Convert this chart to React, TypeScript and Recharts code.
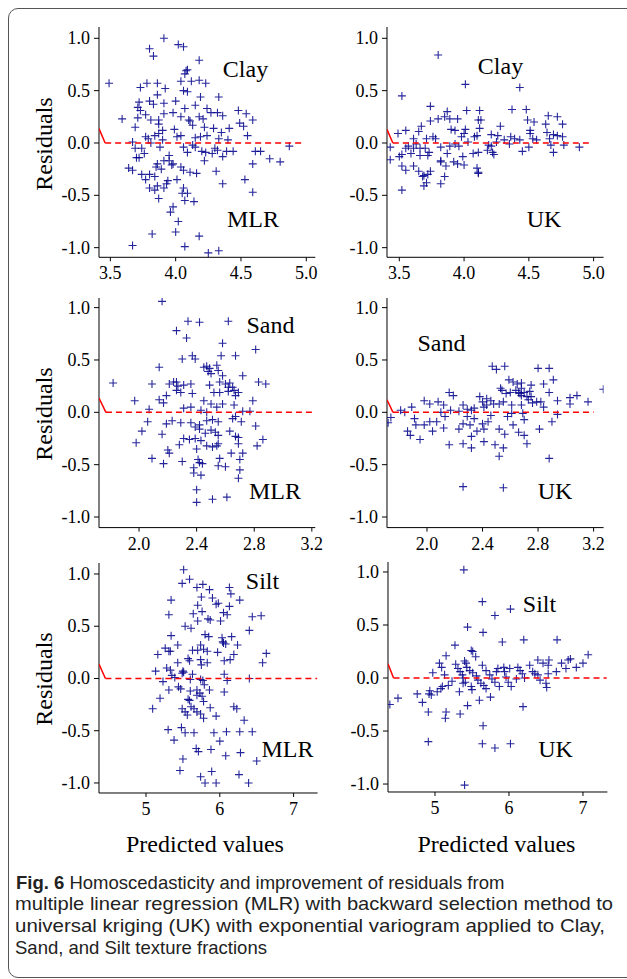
import { ScatterChart, Scatter, XAxis, YAxis } from 'recharts';

const SERIF = '"Liberation Serif", "Times New Roman", serif';
const SANS = '"Liberation Sans", Arial, sans-serif';
const PT = '#00008b';
const RED = '#ff0000';

// residual ticks shared by all panels
const residTicks = [-1, -0.5, 0, 0.5, 1];
const clayTicks = [3.5, 4.0, 4.5, 5.0];
const sandTicks = [2.0, 2.4, 2.8, 3.2];
const siltTicks = [5, 6, 7];

// [predicted, residual]
const clayMlr: [number, number][] = [
  [3.91, 1.0], [3.8, 0.9], [3.83, 0.83], [4.02, 0.94], [4.06, 0.92], [4.18, 0.79], [4.09, 0.7], [4.07, 0.66],
  [4.08, 0.69], [3.49, 0.57], [3.73, 0.53], [3.78, 0.57], [3.86, 0.57], [3.92, 0.52], [4.04, 0.59], [4.12, 0.59],
  [4.18, 0.6], [4.23, 0.57], [4.06, 0.5], [4.09, 0.49], [4.19, 0.44], [4.33, 0.44], [3.72, 0.39], [3.8, 0.4],
  [3.83, 0.37], [3.86, 0.46], [3.91, 0.38], [4.0, 0.4], [4.15, 0.36], [3.71, 0.34], [3.73, 0.31], [3.77, 0.27],
  [3.71, 0.24], [3.59, 0.23], [3.81, 0.22], [3.87, 0.22], [3.91, 0.28], [3.98, 0.29], [4.04, 0.25], [4.07, 0.33],
  [4.1, 0.22], [4.11, 0.21], [4.18, 0.25], [4.21, 0.23], [4.24, 0.33], [4.27, 0.29], [4.32, 0.29], [4.36, 0.26],
  [4.48, 0.31], [4.54, 0.28], [4.59, 0.22], [4.49, 0.19], [4.52, 0.16], [4.55, 0.07], [3.69, 0.15], [3.87, 0.18],
  [3.9, 0.12], [3.99, 0.13], [4.13, 0.17], [4.22, 0.15], [4.29, 0.14], [4.41, 0.14], [4.35, 0.1], [4.24, 0.07],
  [4.15, 0.05], [4.19, 0.06], [4.04, 0.07], [4.01, 0.06], [3.84, 0.07], [3.87, 0.09], [3.77, 0.06], [3.79, 0.04],
  [3.81, 0.0], [3.9, 0.03], [3.67, 0.01], [4.33, 0.04], [4.4, 0.03], [4.87, -0.03], [3.74, -0.05], [3.76, -0.1],
  [3.72, -0.14], [3.7, -0.14], [3.69, -0.05], [3.88, -0.04], [4.06, -0.04], [4.09, -0.09], [4.13, -0.02], [4.15, -0.04],
  [4.2, -0.08], [4.23, -0.09], [4.28, -0.1], [4.3, -0.05], [4.32, -0.07], [4.39, -0.08], [4.44, -0.08], [4.61, -0.08],
  [4.65, -0.08], [4.72, -0.15], [4.8, -0.18], [4.59, -0.2], [4.22, -0.17], [4.36, -0.13], [3.95, -0.12], [3.95, -0.17],
  [3.98, -0.2], [3.91, -0.17], [3.86, -0.2], [3.89, -0.25], [3.85, -0.23], [3.97, -0.21], [4.04, -0.23], [4.06, -0.26],
  [4.11, -0.28], [4.16, -0.29], [4.31, -0.27], [3.64, -0.24], [3.67, -0.26], [3.74, -0.3], [3.8, -0.3], [3.84, -0.32],
  [3.77, -0.35], [4.01, -0.35], [3.94, -0.36], [3.93, -0.39], [4.53, -0.35], [4.36, -0.39], [3.8, -0.43], [3.84, -0.45],
  [3.86, -0.41], [3.91, -0.43], [3.87, -0.53], [4.06, -0.43], [4.05, -0.48], [4.09, -0.48], [4.07, -0.55], [4.14, -0.56],
  [4.59, -0.47], [3.98, -0.61], [3.96, -0.66], [4.02, -0.75], [4.0, -0.85], [3.82, -0.87], [4.18, -0.89], [3.67, -0.98],
  [4.07, -0.99], [4.25, -1.05], [4.33, -1.03],
];

const clayUk: [number, number][] = [
  [3.8, 0.84], [4.01, 0.56], [4.43, 0.53], [3.52, 0.45], [3.74, 0.35], [4.37, 0.32], [4.48, 0.32], [3.87, 0.3],
  [4.02, 0.31], [4.12, 0.31], [3.85, 0.25], [3.8, 0.23], [3.89, 0.23], [3.95, 0.23], [3.74, 0.21], [4.11, 0.22],
  [4.13, 0.22], [4.49, 0.22], [4.54, 0.2], [4.65, 0.26], [4.72, 0.25], [4.76, 0.18], [4.63, 0.18], [3.67, 0.16],
  [3.65, 0.11], [3.55, 0.12], [3.49, 0.09], [3.9, 0.13], [3.93, 0.12], [4.01, 0.13], [4.12, 0.14], [4.28, 0.16],
  [4.26, 0.07], [4.21, 0.08], [4.1, 0.07], [4.08, 0.06], [4.0, 0.09], [3.98, 0.06], [3.76, 0.06], [3.78, 0.04],
  [3.71, 0.04], [3.61, 0.04], [3.63, -0.01], [3.57, -0.03], [3.61, -0.05], [3.66, -0.05], [3.7, -0.05], [3.73, -0.09],
  [3.72, -0.12], [3.66, -0.12], [3.59, -0.1], [3.52, -0.11], [3.5, -0.13], [3.55, -0.05], [3.43, -0.04], [3.43, -0.16],
  [3.52, -0.22], [3.55, -0.26], [3.61, -0.22], [3.65, -0.27], [3.69, -0.31], [3.68, -0.32], [3.74, -0.27], [3.72, -0.3],
  [3.71, -0.38], [3.69, -0.41], [3.52, -0.45], [3.82, -0.39], [3.85, -0.32], [3.82, -0.18], [3.82, -0.17], [3.86, -0.22],
  [3.92, -0.18], [3.95, -0.2], [4.0, -0.21], [3.99, -0.13], [3.87, -0.1], [3.82, -0.04], [3.89, -0.03], [3.93, -0.01],
  [3.96, -0.03], [4.03, 0.01], [4.07, -0.1], [4.11, -0.09], [4.1, -0.24], [4.11, -0.28], [4.11, -0.29], [4.18, -0.07],
  [4.22, -0.09], [4.23, -0.11], [4.19, -0.02], [4.21, -0.03], [4.25, 0.01], [4.31, 0.03], [4.36, 0.06], [4.39, 0.04],
  [4.35, -0.01], [4.43, 0.03], [4.45, -0.08], [4.5, -0.04], [4.51, 0.12], [4.51, 0.09], [4.53, 0.04], [4.56, 0.03],
  [4.64, 0.1], [4.66, 0.04], [4.69, 0.08], [4.72, 0.07], [4.67, -0.02], [4.69, -0.09], [4.76, 0.06], [4.77, -0.02],
  [4.89, -0.04],
];

const sandMlr: [number, number][] = [
  [2.16, 1.06], [2.34, 0.87], [2.42, 0.86], [2.62, 0.87], [2.26, 0.78], [2.33, 0.71], [2.58, 0.66], [2.81, 0.6],
  [2.3, 0.51], [2.37, 0.54], [2.39, 0.51], [2.57, 0.54], [2.67, 0.54], [2.14, 0.43], [2.45, 0.43], [2.47, 0.44],
  [2.49, 0.42], [2.5, 0.37], [2.54, 0.45], [2.55, 0.4], [2.48, 0.39], [2.58, 0.35], [2.72, 0.35], [1.82, 0.28],
  [2.09, 0.27], [2.21, 0.27], [2.26, 0.29], [2.27, 0.25], [2.24, 0.29], [2.31, 0.26], [2.36, 0.27], [2.49, 0.26],
  [2.56, 0.29], [2.6, 0.27], [2.63, 0.28], [2.62, 0.24], [2.65, 0.24], [2.83, 0.29], [2.88, 0.27], [2.26, 0.21],
  [2.29, 0.19], [2.19, 0.16], [2.37, 0.18], [2.52, 0.19], [2.56, 0.19], [2.62, 0.2], [2.66, 0.21], [2.69, 0.19],
  [2.67, 0.16], [2.14, 0.12], [2.17, 0.09], [1.97, 0.11], [2.45, 0.11], [2.5, 0.08], [2.58, 0.08], [2.66, 0.07],
  [2.79, 0.11], [2.36, 0.05], [2.31, 0.04], [2.43, 0.02], [2.47, 0.0], [2.54, 0.05], [2.07, 0.03], [2.72, 0.01],
  [2.77, 0.01], [2.06, -0.09], [2.02, -0.18], [1.98, -0.29], [2.23, -0.08], [2.19, -0.11], [2.29, -0.1], [2.36, -0.1],
  [2.39, -0.14], [2.42, -0.16], [2.42, -0.12], [2.47, -0.08], [2.51, -0.07], [2.55, -0.09], [2.65, -0.06], [2.67, -0.04],
  [2.71, -0.09], [2.81, -0.13], [2.46, -0.2], [2.5, -0.17], [2.53, -0.19], [2.55, -0.22], [2.63, -0.18], [2.67, -0.23],
  [2.69, -0.24], [2.16, -0.21], [2.31, -0.25], [2.35, -0.26], [2.39, -0.25], [2.43, -0.27], [2.47, -0.32], [2.51, -0.33],
  [2.54, -0.32], [2.55, -0.3], [2.28, -0.31], [2.2, -0.36], [2.21, -0.39], [2.4, -0.35], [2.69, -0.3], [2.72, -0.39],
  [2.82, -0.32], [2.86, -0.26], [2.09, -0.44], [2.17, -0.49], [2.3, -0.47], [2.41, -0.45], [2.42, -0.48], [2.44, -0.49],
  [2.38, -0.53], [2.56, -0.44], [2.55, -0.51], [2.6, -0.52], [2.64, -0.39], [2.7, -0.45], [2.7, -0.55], [2.38, -0.58],
  [2.43, -0.6], [2.69, -0.63], [2.4, -0.74], [2.51, -0.83], [2.61, -0.81], [2.4, -0.86],
];

const sandUk: [number, number][] = [
  [2.47, 0.44], [2.5, 0.41], [2.56, 0.44], [2.8, 0.42], [2.88, 0.42], [2.91, 0.31], [2.84, 0.27], [2.88, 0.19],
  [3.27, 0.22], [2.59, 0.31], [2.62, 0.29], [2.65, 0.27], [2.68, 0.28], [2.75, 0.26], [2.53, 0.23], [2.54, 0.21],
  [2.57, 0.18], [2.6, 0.19], [2.64, 0.21], [2.66, 0.19], [2.68, 0.23], [2.67, 0.18], [2.7, 0.19], [2.74, 0.2],
  [2.75, 0.15], [2.72, 0.15], [2.68, 0.16], [2.16, 0.19], [2.19, 0.16], [2.38, 0.15], [2.43, 0.13], [2.46, 0.11],
  [2.4, 0.1], [2.43, 0.07], [2.41, 0.05], [2.48, 0.08], [2.52, 0.08], [2.55, 0.1], [2.61, 0.07], [2.68, 0.07],
  [2.73, 0.12], [2.76, 0.09], [2.79, 0.1], [2.82, 0.1], [2.84, 0.05], [2.94, 0.11], [3.03, 0.14], [3.08, 0.16],
  [3.03, 0.08], [3.16, 0.1], [1.98, 0.11], [1.89, 0.05], [1.81, 0.02], [2.02, 0.08], [2.08, 0.1], [2.12, 0.07],
  [2.17, 0.02], [2.23, 0.01], [2.26, 0.07], [2.29, 0.03], [2.32, 0.02], [2.34, 0.04], [1.74, -0.05], [1.72, -0.1],
  [1.84, 0.0], [1.91, -0.06], [1.92, -0.12], [1.86, -0.18], [1.88, -0.22], [1.95, -0.26], [1.98, -0.12], [2.02, -0.09],
  [2.04, -0.18], [2.07, -0.09], [2.1, 0.0], [2.13, -0.04], [2.12, -0.15], [2.16, -0.31], [2.23, -0.16], [2.26, -0.3],
  [2.26, -0.11], [2.29, -0.04], [2.31, -0.12], [2.32, -0.23], [2.32, -0.34], [2.36, -0.18], [2.34, -0.06], [2.4, -0.11],
  [2.41, -0.16], [2.41, -0.28], [2.44, -0.09], [2.46, -0.03], [2.52, -0.16], [2.49, -0.31], [2.52, -0.42], [2.55, -0.34],
  [2.56, -0.21], [2.58, -0.04], [2.61, -0.01], [2.62, -0.12], [2.66, -0.19], [2.7, -0.22], [2.72, -0.3], [2.7, -0.07],
  [2.69, -0.01], [2.81, -0.16], [2.9, -0.09], [2.94, -0.02], [2.88, -0.44], [2.26, -0.71], [2.55, -0.72],
];

const siltMlr: [number, number][] = [
  [5.51, 1.04], [5.49, 0.91], [5.59, 0.95], [5.69, 0.87], [5.77, 0.9], [5.86, 0.85], [6.13, 0.87], [6.15, 0.81],
  [6.27, 0.75], [5.75, 0.78], [5.9, 0.77], [5.98, 0.72], [5.95, 0.71], [5.7, 0.7], [5.34, 0.75], [6.13, 0.69],
  [5.76, 0.64], [5.64, 0.62], [6.05, 0.63], [6.1, 0.61], [6.44, 0.59], [6.56, 0.6], [5.31, 0.61], [5.84, 0.57],
  [5.87, 0.56], [5.7, 0.55], [6.01, 0.55], [5.53, 0.5], [5.61, 0.48], [6.4, 0.46], [5.8, 0.42], [5.85, 0.4],
  [5.34, 0.41], [6.03, 0.39], [6.16, 0.4], [6.04, 0.35], [6.05, 0.34], [6.08, 0.33], [6.24, 0.32], [5.74, 0.32],
  [5.7, 0.27], [5.78, 0.28], [5.83, 0.26], [5.97, 0.25], [5.63, 0.27], [5.26, 0.29], [5.31, 0.26], [5.43, 0.32],
  [5.33, 0.26], [5.16, 0.23], [6.19, 0.23], [6.14, 0.18], [6.06, 0.17], [6.63, 0.24], [6.58, 0.15], [5.57, 0.19],
  [5.59, 0.17], [5.43, 0.15], [5.74, 0.18], [5.75, 0.13], [5.83, 0.15], [5.28, 0.1], [5.33, 0.08], [5.13, 0.07],
  [5.5, 0.07], [5.51, 0.06], [5.49, 0.05], [5.63, 0.04], [6.06, 0.04], [5.35, 0.03], [5.39, 0.01], [5.23, -0.03],
  [5.6, -0.01], [5.74, -0.01], [5.77, -0.02], [6.1, -0.02], [6.4, 0.0], [5.79, -0.06], [5.44, -0.08], [5.47, -0.1],
  [5.31, -0.11], [5.69, -0.11], [5.86, -0.11], [6.06, -0.13], [5.6, -0.12], [5.69, -0.16], [5.73, -0.14], [5.76, -0.17],
  [5.78, -0.22], [5.57, -0.2], [5.59, -0.21], [5.19, -0.19], [5.09, -0.29], [6.19, -0.27], [6.23, -0.29], [5.61, -0.27],
  [5.65, -0.29], [5.69, -0.32], [5.74, -0.34], [5.78, -0.38], [5.87, -0.28], [5.49, -0.29], [5.53, -0.32], [5.56, -0.35],
  [5.95, -0.36], [6.33, -0.4], [5.3, -0.49], [5.48, -0.47], [5.53, -0.52], [5.65, -0.52], [5.92, -0.52], [6.09, -0.51],
  [6.27, -0.51], [6.44, -0.51], [5.38, -0.59], [6.0, -0.6], [5.68, -0.67], [5.88, -0.68], [5.71, -0.7], [6.28, -0.71],
  [6.08, -0.74], [5.5, -0.77], [6.5, -0.79], [5.46, -0.88], [5.89, -0.89], [6.26, -0.92], [5.74, -0.94], [5.8, -1.0],
  [5.95, -1.0], [6.39, -1.0],
];

const siltUk: [number, number][] = [
  [5.39, 1.02], [5.4, -1.01], [5.64, 0.72], [6.02, 0.65], [5.81, 0.59], [5.44, 0.48], [5.65, 0.43], [5.91, 0.34],
  [6.2, 0.36], [6.65, 0.36], [5.27, 0.31], [5.49, 0.26], [5.51, 0.25], [5.55, 0.2], [5.15, 0.21], [5.4, 0.16],
  [5.42, 0.14], [5.06, 0.14], [5.09, 0.1], [4.97, 0.05], [5.13, 0.03], [5.28, 0.13], [5.31, 0.09], [5.34, 0.06],
  [5.37, 0.03], [5.43, 0.1], [5.47, 0.07], [5.51, 0.05], [5.56, 0.02], [5.64, 0.12], [5.58, -0.02], [5.62, -0.05],
  [5.66, -0.07], [5.38, 0.0], [5.41, -0.04], [5.38, -0.05], [5.49, -0.08], [5.5, -0.11], [5.33, -0.13], [5.44, -0.26],
  [5.23, -0.03], [5.18, -0.07], [5.1, -0.08], [5.08, -0.1], [5.03, -0.13], [4.93, -0.12], [4.95, -0.16], [4.92, -0.15],
  [4.76, -0.15], [4.83, -0.23], [4.91, -0.32], [4.5, -0.19], [4.39, -0.25], [5.15, -0.32], [5.14, -0.38], [5.34, -0.34],
  [4.91, -0.6], [5.65, -0.45], [5.64, -0.62], [5.81, -0.66], [6.02, -0.62], [5.6, -0.21], [5.75, -0.18], [6.19, -0.27],
  [5.69, 0.07], [5.74, 0.03], [5.77, -0.01], [5.81, -0.04], [5.83, 0.06], [5.85, 0.09], [5.87, -0.08], [5.93, 0.1],
  [5.94, 0.06], [5.96, 0.01], [5.99, -0.04], [6.03, -0.08], [6.01, 0.09], [6.12, 0.1], [6.15, 0.07], [6.18, 0.04],
  [6.21, 0.0], [6.28, 0.12], [6.32, 0.06], [6.35, 0.04], [6.39, 0.03], [6.42, -0.02], [6.39, 0.17], [6.46, 0.14],
  [6.53, 0.12], [6.54, 0.17], [6.53, 0.04], [6.5, -0.05], [6.51, -0.09], [6.64, 0.06], [6.71, 0.14], [6.77, 0.09],
  [6.8, 0.17], [6.83, 0.18], [6.91, 0.1], [7.0, 0.14], [7.07, 0.22], [6.1, -0.01], [5.69, -0.1],
];

// red reference: short solid stub from the left edge, then dashed zero line
const clayMlrRef: [number, number][] = [[3.413, 0.137], [3.46, 0], [4.98, 0]];
const clayUkRef: [number, number][] = [[3.405, 0.13], [3.45, 0], [4.99, 0]];
const sandMlrRef: [number, number][] = [[1.722, 0.137], [1.77, 0], [3.2, 0]];
const sandUkRef: [number, number][] = [[1.712, 0.12], [1.755, 0], [3.2, 0]];
const siltMlrRef: [number, number][] = [[4.363, 0.137], [4.45, 0], [7.32, 0]];
const siltUkRef: [number, number][] = [[4.365, 0.135], [4.44, 0], [7.32, 0]];

const YW = 60;
const XH = 34;
const MT = 4;
const MR = 16;

function Plus(props: any) {
  const { cx, cy } = props;
  if (cx == null || cy == null) return <g />;
  return (
    <path
      d={`M${cx - 4},${cy}h8M${cx},${cy - 4}v8`}
      stroke={PT}
      strokeOpacity={0.85}
      strokeWidth={1.1}
      fill="none"
    />
  );
}

const tickText = { fontFamily: SERIF, fontSize: 18, fill: '#000' };

// tick text drawn by hand so the serif face is used
function makeTick(axis: 'x' | 'y', digits: number) {
  return (p: any) => {
    const { x, y, payload } = p;
    const s = Number(payload.value).toFixed(digits);
    if (axis === 'x') {
      return (
        <text x={x} y={y + 13} textAnchor="middle" style={tickText}>
          {s}
        </text>
      );
    }
    return (
      <text x={x} y={y + 6} textAnchor="end" style={tickText}>
        {s}
      </text>
    );
  };
}

function Panel({ box, pts, guide, xDomain, yDomain, xTicks, digits }: any) {
  const rows = pts.map(([x, y]: number[]) => ({ x, y }));
  const stub = guide.slice(0, 2).map(([x, y]: number[]) => ({ x, y }));
  const dash = guide.slice(1).map(([x, y]: number[]) => ({ x, y }));
  return (
    <div style={{ position: 'absolute', left: box.x - YW, top: box.y - MT, fontFamily: SERIF }}>
      <ScatterChart
        width={box.w + YW + MR}
        height={box.h + MT + XH}
        margin={{ top: MT, right: MR, bottom: 0, left: 0 }}
      >
        <XAxis
          type="number"
          dataKey="x"
          domain={xDomain}
          ticks={xTicks}
          interval={0}
          allowDataOverflow
          height={XH}
          tickSize={4}
          tickMargin={5}
          stroke="#000"
          tick={makeTick('x', digits)}
        />
        <YAxis
          type="number"
          dataKey="y"
          domain={yDomain}
          ticks={residTicks}
          interval={0}
          allowDataOverflow
          width={YW}
          tickSize={5}
          tickMargin={4}
          stroke="#000"
          tick={makeTick('y', 1)}
        />
        <Scatter data={rows} shape={<Plus />} isAnimationActive={false} />
        <Scatter
          data={stub}
          fill={RED}
          line={{ stroke: RED, strokeWidth: 1.5 }}
          shape={() => <g />}
          isAnimationActive={false}
        />
        <Scatter
          data={dash}
          fill={RED}
          line={{ stroke: RED, strokeWidth: 1.5, strokeDasharray: '6 4' }}
          shape={() => <g />}
          isAnimationActive={false}
        />
      </ScatterChart>
    </div>
  );
}

const labelStyle = { fontFamily: SERIF, fontSize: 24, fill: '#000' };

export default function App() {
  return (
    <div style={{ position: 'absolute', left: 0, top: 0, width: 627, height: 979, overflow: 'hidden', background: '#fff' }}>
      <div
        style={{
          position: 'absolute', left: 8, top: 8, width: 660, height: 970,
          boxSizing: 'border-box', border: '1.5px solid #555', borderRadius: 10,
        }}
      />
      <Panel box={{ x: 98.7, y: 27, w: 216.3, h: 230.3 }} pts={clayMlr} guide={clayMlrRef}
        xDomain={[3.413, 5.069]} yDomain={[-1.092, 1.108]} xTicks={clayTicks} digits={1} />
      <Panel box={{ x: 386.7, y: 27, w: 216.6, h: 230.3 }} pts={clayUk} guide={clayUkRef}
        xDomain={[3.405, 5.077]} yDomain={[-1.092, 1.108]} xTicks={clayTicks} digits={1} />
      <Panel box={{ x: 98.7, y: 297.7, w: 216.3, h: 229.6 }} pts={sandMlr} guide={sandMlrRef}
        xDomain={[1.722, 3.224]} yDomain={[-1.101, 1.092]} xTicks={sandTicks} digits={1} />
      <Panel box={{ x: 386.7, y: 297.7, w: 216.6, h: 229.6 }} pts={sandUk} guide={sandUkRef}
        xDomain={[1.712, 3.272]} yDomain={[-1.101, 1.092]} xTicks={sandTicks} digits={1} />
      <Panel box={{ x: 98.7, y: 563.3, w: 218.6, h: 230 }} pts={siltMlr} guide={siltMlrRef}
        xDomain={[4.363, 7.325]} yDomain={[-1.096, 1.105]} xTicks={siltTicks} digits={0} />
      <Panel box={{ x: 388.3, y: 562.3, w: 219.4, h: 230 }} pts={siltUk} guide={siltUkRef}
        xDomain={[4.365, 7.33]} yDomain={[-1.075, 1.094]} xTicks={siltTicks} digits={0} />

      <svg width={627} height={979} style={{ position: 'absolute', left: 0, top: 0, pointerEvents: 'none' }}>
        <g style={labelStyle as any}>
          <text x={245.5} y={76.5} textAnchor="middle">Clay</text>
          <text x={253} y={227} textAnchor="middle">MLR</text>
          <text x={500.5} y={74} textAnchor="middle">Clay</text>
          <text x={544} y={227} textAnchor="middle">UK</text>
          <text x={270.5} y={333} textAnchor="middle">Sand</text>
          <text x={275} y={499} textAnchor="middle">MLR</text>
          <text x={441.5} y={351} textAnchor="middle">Sand</text>
          <text x={555} y={499} textAnchor="middle">UK</text>
          <text x={262.5} y={589} textAnchor="middle">Silt</text>
          <text x={287.5} y={757} textAnchor="middle">MLR</text>
          <text x={539.5} y={612} textAnchor="middle">Silt</text>
          <text x={555.5} y={757} textAnchor="middle">UK</text>
          <text x={205} y={852} textAnchor="middle">Predicted values</text>
          <text x={496.5} y={852} textAnchor="middle">Predicted values</text>
          <text transform="translate(52,144) rotate(-90)" textAnchor="middle">Residuals</text>
          <text transform="translate(52,414) rotate(-90)" textAnchor="middle">Residuals</text>
          <text transform="translate(52,679) rotate(-90)" textAnchor="middle">Residuals</text>
        </g>
        <g style={{ fontFamily: SANS, fontSize: 18.5, fill: '#222' }}>
          <text x={16} y={888.5}>
            <tspan fontWeight="bold">Fig. 6</tspan> Homoscedasticity and improvement of residuals from
          </text>
          <text x={15} y={910.2} textLength={598} lengthAdjust="spacingAndGlyphs">
            multiple linear regression (MLR) with backward selection method to
          </text>
          <text x={15} y={931.9} textLength={590} lengthAdjust="spacingAndGlyphs">
            universal kriging (UK) with exponential variogram applied to Clay,
          </text>
          <text x={15} y={953.6}>
            Sand, and Silt texture fractions
          </text>
        </g>
      </svg>
    </div>
  );
}
